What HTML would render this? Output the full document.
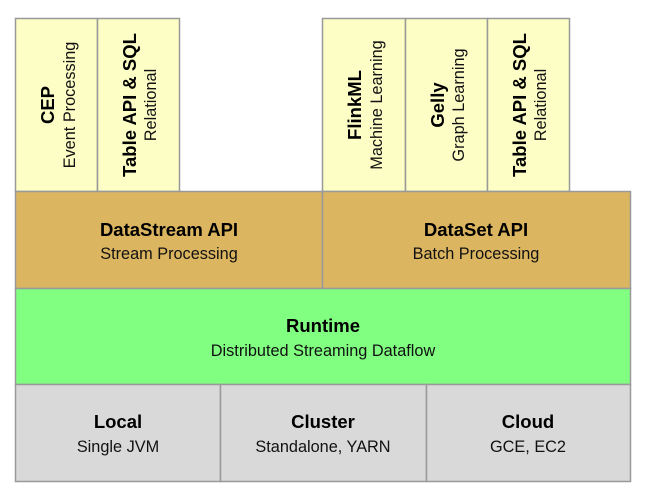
<!DOCTYPE html>
<html><head><meta charset="utf-8"><style>
html,body{margin:0;padding:0;background:#fff;}
svg{display:block;font-family:"Liberation Sans",Arial,sans-serif;}
.b{font-weight:bold;font-size:18.5px;fill:#000;}
.s{font-size:16.3px;fill:#111;}
</style></head><body>
<svg width="647" height="499" viewBox="0 0 647 499">
<g stroke="#999" stroke-width="1.5">
<rect x="15.5" y="18.5" width="82" height="173" fill="#fdfdc6"/>
<rect x="97.5" y="18.5" width="82" height="173" fill="#fdfdc6"/>
<rect x="322.5" y="18.5" width="83" height="173" fill="#fdfdc6"/>
<rect x="405.5" y="18.5" width="82" height="173" fill="#fdfdc6"/>
<rect x="487.5" y="18.5" width="82" height="173" fill="#fdfdc6"/>
<rect x="15.5" y="191.5" width="307" height="97" fill="#dcb560"/>
<rect x="322.5" y="191.5" width="308" height="97" fill="#dcb560"/>
<rect x="15.5" y="288.5" width="615" height="96" fill="#80ff80"/>
<rect x="15.5" y="384.5" width="205" height="97" fill="#d9d9d9"/>
<rect x="220.5" y="384.5" width="206" height="97" fill="#d9d9d9"/>
<rect x="426.5" y="384.5" width="204" height="97" fill="#d9d9d9"/>
</g>
<g text-anchor="middle">
<text class="b" transform="translate(54,105) rotate(-90)">CEP</text>
<text class="s" transform="translate(75,105) rotate(-90)">Event Processing</text>
<text class="b" transform="translate(136,105) rotate(-90)">Table API &amp; SQL</text>
<text class="s" transform="translate(156,105) rotate(-90)">Relational</text>
<text class="b" transform="translate(361,105) rotate(-90)">FlinkML</text>
<text class="s" transform="translate(382,105) rotate(-90)">Machine Learning</text>
<text class="b" transform="translate(444,105) rotate(-90)">Gelly</text>
<text class="s" transform="translate(464,105) rotate(-90)">Graph Learning</text>
<text class="b" transform="translate(526,105) rotate(-90)">Table API &amp; SQL</text>
<text class="s" transform="translate(546,105) rotate(-90)">Relational</text>
<text class="b" x="169" y="236">DataStream API</text>
<text class="s" x="169" y="259">Stream Processing</text>
<text class="b" x="476" y="236">DataSet API</text>
<text class="s" x="476" y="259">Batch Processing</text>
<text class="b" x="323" y="332">Runtime</text>
<text class="s" x="323" y="356">Distributed Streaming Dataflow</text>
<text class="b" x="118" y="428">Local</text>
<text class="s" x="118" y="452">Single JVM</text>
<text class="b" x="323" y="428">Cluster</text>
<text class="s" x="323" y="452">Standalone, YARN</text>
<text class="b" x="528" y="428">Cloud</text>
<text class="s" x="528" y="452">GCE, EC2</text>
</g>
</svg>
</body></html>
